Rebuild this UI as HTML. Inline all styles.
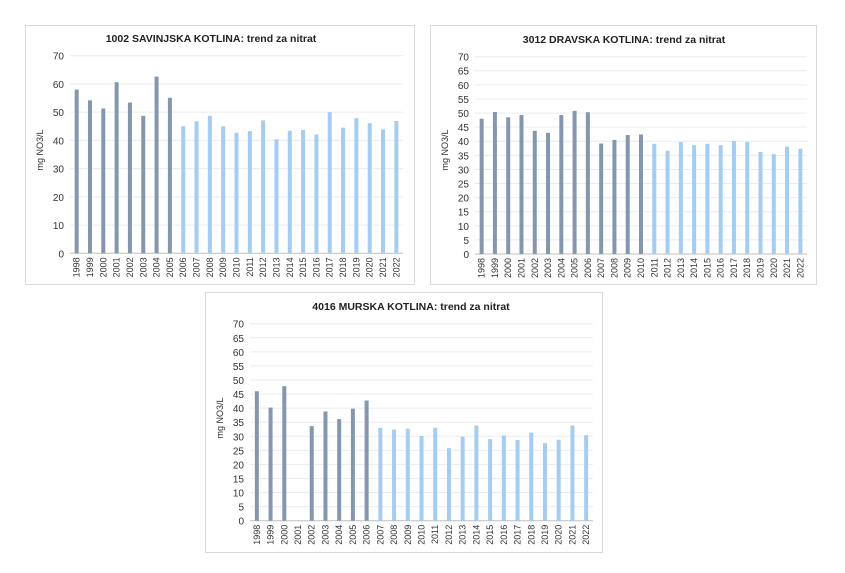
<!DOCTYPE html>
<html><head><meta charset="utf-8"><style>
body{margin:0;background:#fff;}
svg{font-family:"Liberation Sans",sans-serif;}
.t{font-weight:bold;font-size:10.5px;fill:#222;}
.yl{font-size:10px;fill:#333;text-anchor:end;}
.ax{font-size:9px;fill:#333;}
.yr{font-size:9px;fill:#333;text-anchor:end;}
</style></head><body>
<svg id="s" width="845" height="568" xmlns="http://www.w3.org/2000/svg">
<rect x="25.5" y="25.5" width="389" height="259" fill="#fff" stroke="#d9d9d9"/>
<rect x="430.5" y="25.5" width="386" height="259" fill="#fff" stroke="#d9d9d9"/>
<rect x="205.5" y="292.5" width="397" height="260" fill="#fff" stroke="#d9d9d9"/>
<text class="t" x="211" y="42" text-anchor="middle">1002 SAVINJSKA KOTLINA: trend za nitrat</text>
<text class="t" x="624" y="43" text-anchor="middle">3012 DRAVSKA KOTLINA: trend za nitrat</text>
<text class="t" x="411" y="310" text-anchor="middle">4016 MURSKA KOTLINA:  trend za nitrat</text>
<text class="ax" transform="translate(43,150) rotate(-90)" text-anchor="middle">mg NO3/L</text>
<text class="ax" transform="translate(448,150) rotate(-90)" text-anchor="middle">mg NO3/L</text>
<text class="ax" transform="translate(223,418) rotate(-90)" text-anchor="middle">mg NO3/L</text>
<g id="c1" transform="translate(70,253.3)">
<text class="yl" x="-6" y="4">0</text><text class="yl" x="-6" y="-24.2">10</text><text class="yl" x="-6" y="-52.5">20</text><text class="yl" x="-6" y="-80.7">30</text><text class="yl" x="-6" y="-108.9">40</text><text class="yl" x="-6" y="-137.2">50</text><text class="yl" x="-6" y="-165.4">60</text><text class="yl" x="-6" y="-193.6">70</text>
</g>
<g id="c2" transform="translate(475,254)">
<text class="yl" x="-6" y="4">0</text><text class="yl" x="-6" y="-10.1">5</text><text class="yl" x="-6" y="-24.2">10</text><text class="yl" x="-6" y="-38.3">15</text><text class="yl" x="-6" y="-52.4">20</text><text class="yl" x="-6" y="-66.5">25</text><text class="yl" x="-6" y="-80.6">30</text><text class="yl" x="-6" y="-94.7">35</text><text class="yl" x="-6" y="-108.8">40</text><text class="yl" x="-6" y="-122.9">45</text><text class="yl" x="-6" y="-137">50</text><text class="yl" x="-6" y="-151.1">55</text><text class="yl" x="-6" y="-165.2">60</text><text class="yl" x="-6" y="-179.3">65</text><text class="yl" x="-6" y="-193.3">70</text>
</g>
<g id="c3" transform="translate(250,520.7)">
<text class="yl" x="-6" y="4">0</text><text class="yl" x="-6" y="-10.1">5</text><text class="yl" x="-6" y="-24.1">10</text><text class="yl" x="-6" y="-38.2">15</text><text class="yl" x="-6" y="-52.3">20</text><text class="yl" x="-6" y="-66.4">25</text><text class="yl" x="-6" y="-80.4">30</text><text class="yl" x="-6" y="-94.5">35</text><text class="yl" x="-6" y="-108.6">40</text><text class="yl" x="-6" y="-122.6">45</text><text class="yl" x="-6" y="-136.7">50</text><text class="yl" x="-6" y="-150.8">55</text><text class="yl" x="-6" y="-164.9">60</text><text class="yl" x="-6" y="-178.9">65</text><text class="yl" x="-6" y="-193">70</text>
</g>
<g id="y1"><text class="yr">1998</text><text class="yr">1999</text><text class="yr">2000</text><text class="yr">2001</text><text class="yr">2002</text><text class="yr">2003</text><text class="yr">2004</text><text class="yr">2005</text><text class="yr">2006</text><text class="yr">2007</text><text class="yr">2008</text><text class="yr">2009</text><text class="yr">2010</text><text class="yr">2011</text><text class="yr">2012</text><text class="yr">2013</text><text class="yr">2014</text><text class="yr">2015</text><text class="yr">2016</text><text class="yr">2017</text><text class="yr">2018</text><text class="yr">2019</text><text class="yr">2020</text><text class="yr">2021</text><text class="yr">2022</text></g>
<g id="y2"><text class="yr">1998</text><text class="yr">1999</text><text class="yr">2000</text><text class="yr">2001</text><text class="yr">2002</text><text class="yr">2003</text><text class="yr">2004</text><text class="yr">2005</text><text class="yr">2006</text><text class="yr">2007</text><text class="yr">2008</text><text class="yr">2009</text><text class="yr">2010</text><text class="yr">2011</text><text class="yr">2012</text><text class="yr">2013</text><text class="yr">2014</text><text class="yr">2015</text><text class="yr">2016</text><text class="yr">2017</text><text class="yr">2018</text><text class="yr">2019</text><text class="yr">2020</text><text class="yr">2021</text><text class="yr">2022</text></g>
<g id="y3"><text class="yr">1998</text><text class="yr">1999</text><text class="yr">2000</text><text class="yr">2001</text><text class="yr">2002</text><text class="yr">2003</text><text class="yr">2004</text><text class="yr">2005</text><text class="yr">2006</text><text class="yr">2007</text><text class="yr">2008</text><text class="yr">2009</text><text class="yr">2010</text><text class="yr">2011</text><text class="yr">2012</text><text class="yr">2013</text><text class="yr">2014</text><text class="yr">2015</text><text class="yr">2016</text><text class="yr">2017</text><text class="yr">2018</text><text class="yr">2019</text><text class="yr">2020</text><text class="yr">2021</text><text class="yr">2022</text></g>
</svg>
<script>
var NS="http://www.w3.org/2000/svg";
function mk(t,a,p){var e=document.createElementNS(NS,t);for(var k in a)e.setAttribute(k,a[k]);p.insertBefore(e,p.firstChild);return e;}
var C=[
 {g:"c1",y:"y1",x0:70,y0:253.3,W:333,H:197.6,step:10,nd:8,v:[58,54.2,51.3,60.6,53.4,48.7,62.6,55.1,45,46.8,48.7,45,42.7,43.3,47.1,40.4,43.4,43.7,42.1,50,44.5,47.9,46.1,43.9,46.9]},
 {g:"c2",y:"y2",x0:475,y0:254,W:332,H:197.3,step:5,nd:13,v:[48,50.4,48.5,49.3,43.7,43,49.3,50.8,50.3,39.2,40.5,42.2,42.4,39.1,36.6,39.7,38.6,39.1,38.6,40.1,39.8,36.2,35.4,38.1,37.3]},
 {g:"c3",y:"y3",x0:250,y0:520.7,W:343,H:197,step:5,nd:9,v:[46,40.2,47.8,0,33.6,38.8,36.1,39.8,42.7,33,32.4,32.7,30.1,33,25.8,29.8,33.8,29,30.3,28.7,31.3,27.6,28.8,33.8,30.4]}];
C.forEach(function(c){
 var g=document.getElementById(c.g),k=c.H/70,s=c.W/25;
 c.v.forEach(function(v,i){if(v>0)mk("rect",{x:(i+0.5)*s-2,y:-v*k,width:4,height:v*k,fill:i<c.nd?"#8497b0":"#a3cdf5"},g);});
 for(var t=70;t>=0;t-=c.step){mk("line",{x1:0,x2:c.W,y1:-t*k,y2:-t*k,stroke:t==0?"#bfbfbf":"#ececec","stroke-width":1},g);}
 var ys=document.getElementById(c.y).children;
 for(var i=0;i<ys.length;i++)ys[i].setAttribute("transform","translate("+(c.x0+(i+0.5)*s+3)+","+(c.y0+4)+") rotate(-90)");
});
</script>
</body></html>
